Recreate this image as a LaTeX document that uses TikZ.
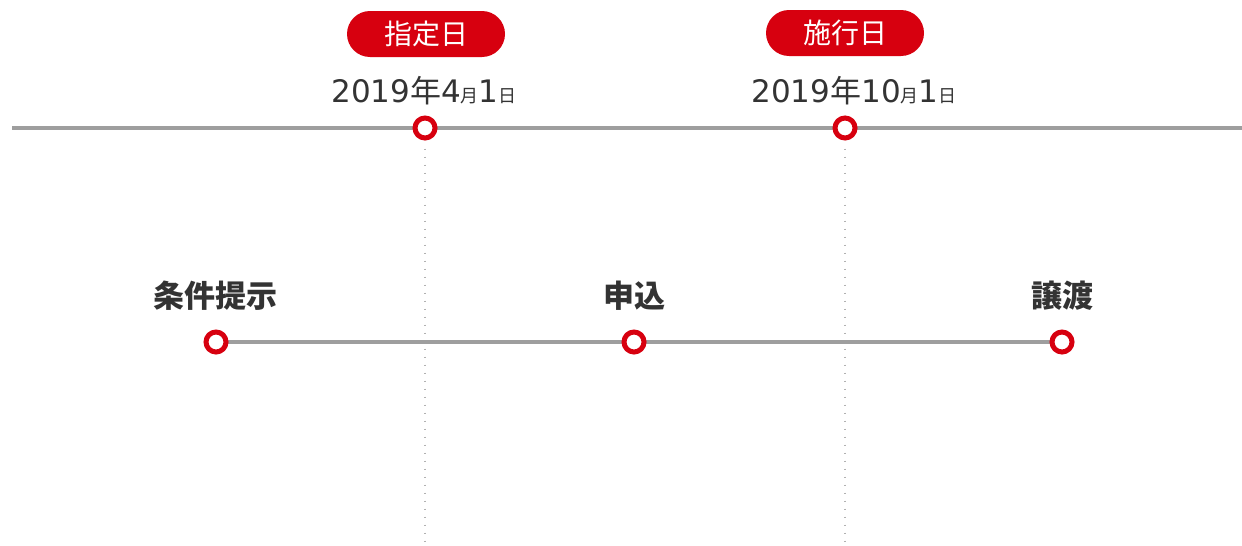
\documentclass[tikz,border=0pt]{standalone}
\usepackage{fontspec}
\setmainfont{DejaVu Sans}
\newfontfamily\cjk{Noto Sans CJK JP}
\definecolor{tlred}{HTML}{D7000F}
\definecolor{tlgray}{HTML}{9E9E9E}
\definecolor{txt}{HTML}{333333}
\begin{document}
\begin{tikzpicture}[x=1pt,y=-1pt,
  tline/.style={draw=tlgray,line width=4.5pt},
  dotline/.style={draw=tlgray!80,line width=1.3pt,dash pattern=on 1.3pt off 6.7pt},
  ring/.style={circle,draw=tlred,line width=5pt,fill=white,minimum size=20pt,inner sep=0pt},
  pill/.style={rounded corners=23pt,fill=tlred,minimum width=158pt,minimum height=46pt,inner sep=0pt,text=white,font=\cjk\fontsize{28}{28}\selectfont},
  datelbl/.style={text=txt,inner sep=0pt,font=\fontsize{31}{31}\selectfont},
  steplbl/.style={text=txt,inner sep=0pt,font=\cjk\bfseries\fontsize{31}{31}\selectfont}]
\useasboundingbox (0,0) rectangle (1242,546);
% top timeline
\coordinate (tl) at (12,128);
\coordinate (tr) at (1242,128);
\draw[tline] (tl) -- (tr);
\coordinate (d1b) at (425,546);
\coordinate (d2b) at (845,546);
\node[ring] (c1) at (425,128) {};
\node[ring] (c2) at (845,128) {};
\draw[dotline] (c1.south) ++(0,8) -- (d1b);
\draw[dotline] (c2.south) ++(0,8) -- (d2b);
\node[pill] (p1) at (426,34) {指定日};
\node[pill] (p2) at (845,33) {施行日};
\node[datelbl] (t1) at (424,91) {2019{\cjk 年}4{\cjk\fontsize{18}{18}\selectfont 月}1{\cjk\fontsize{18}{18}\selectfont 日}};
\node[datelbl] (t2) at (854,91) {2019{\cjk 年}10{\cjk\fontsize{18}{18}\selectfont 月}1{\cjk\fontsize{18}{18}\selectfont 日}};
% bottom process
\coordinate (s1c) at (216,342);
\coordinate (s2c) at (634,342);
\coordinate (s3c) at (1062,342);
\draw[tline] (s1c) -- (s2c) -- (s3c);
\node[ring] (s1) at (s1c) {};
\node[ring] (s2) at (s2c) {};
\node[ring] (s3) at (s3c) {};
\node[steplbl] (l1) at (215,296) {条件提示};
\node[steplbl] (l2) at (634,296) {申込};
\node[steplbl] (l3) at (1062,296) {譲渡};
\end{tikzpicture}
\end{document}
